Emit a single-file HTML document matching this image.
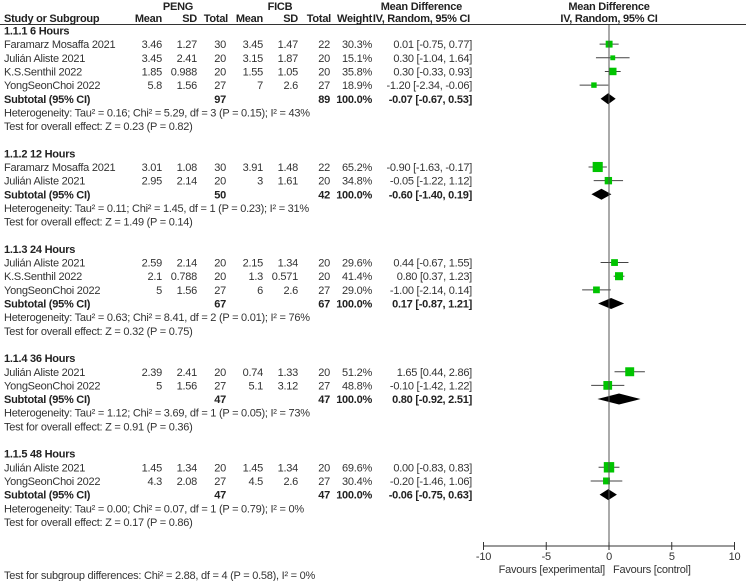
<!DOCTYPE html>
<html><head><meta charset="utf-8"><style>
html,body{margin:0;padding:0;background:#fff;width:746px;height:581px;overflow:hidden}
svg text{font-family:"Liberation Sans",Arial,sans-serif;font-size:11px;fill:#333;letter-spacing:-0.25px}
.b{font-weight:bold;fill:#222}
</style></head><body>
<svg id="plot" width="746" height="581" xmlns="http://www.w3.org/2000/svg">
<g>
<text class="b" x="178" y="10" text-anchor="middle">PENG</text>
<text class="b" x="280" y="10" text-anchor="middle">FICB</text>
<text class="b" x="462" y="10" text-anchor="end">Mean Difference</text>
<text class="b" x="609" y="10" text-anchor="middle">Mean Difference</text>
<text class="b" x="4" y="22">Study or Subgroup</text>
<text class="b" x="162" y="22" text-anchor="end">Mean</text>
<text class="b" x="197" y="22" text-anchor="end">SD</text>
<text class="b" x="228" y="22" text-anchor="end">Total</text>
<text class="b" x="263" y="22" text-anchor="end">Mean</text>
<text class="b" x="298" y="22" text-anchor="end">SD</text>
<text class="b" x="331" y="22" text-anchor="end">Total</text>
<text class="b" x="372" y="22" text-anchor="end">Weight</text>
<text class="b" x="470" y="22" text-anchor="end">IV, Random, 95% CI</text>
<text class="b" x="609" y="22" text-anchor="middle">IV, Random, 95% CI</text>
<line x1="0" y1="24.5" x2="746" y2="24.5" stroke="#333" stroke-width="1"/>
</g>
<g id="rows"></g>
<g id="marks"></g>
</svg>
<script>
const groupTitles = ["1.1.1 6 Hours","1.1.2 12 Hours","1.1.3 24 Hours","1.1.4 36 Hours","1.1.5 48 Hours"];
const studyNames = [
 ["Faramarz Mosaffa 2021","Julián Aliste 2021","K.S.Senthil 2022","YongSeonChoi 2022"],
 ["Faramarz Mosaffa 2021","Julián Aliste 2021"],
 ["Julián Aliste 2021","K.S.Senthil 2022","YongSeonChoi 2022"],
 ["Julián Aliste 2021","YongSeonChoi 2022"],
 ["Julián Aliste 2021","YongSeonChoi 2022"]];
const pengMean = [["3.46","3.45","1.85","5.8"],["3.01","2.95"],["2.59","2.1","5"],["2.39","5"],["1.45","4.3"]];
const pengSD = [["1.27","2.41","0.988","1.56"],["1.08","2.14"],["2.14","0.788","1.56"],["2.41","1.56"],["1.34","2.08"]];
const pengN = [["30","20","20","27"],["30","20"],["20","20","27"],["20","27"],["20","27"]];
const ficbMean = [["3.45","3.15","1.55","7"],["3.91","3"],["2.15","1.3","6"],["0.74","5.1"],["1.45","4.5"]];
const ficbSD = [["1.47","1.87","1.05","2.6"],["1.48","1.61"],["1.34","0.571","2.6"],["1.33","3.12"],["1.34","2.6"]];
const ficbN = [["22","20","20","27"],["22","20"],["20","20","27"],["20","27"],["20","27"]];
const weights = [[30.3,15.1,35.8,18.9],[65.2,34.8],[29.6,41.4,29.0],[51.2,48.8],[69.6,30.4]];
const md = [[0.01,0.30,0.30,-1.20],[-0.90,-0.05],[0.44,0.80,-1.00],[1.65,-0.10],[0.00,-0.20]];
const lo = [[-0.75,-1.04,-0.33,-2.34],[-1.63,-1.22],[-0.67,0.37,-2.14],[0.44,-1.42],[-0.83,-1.46]];
const hi = [[0.77,1.64,0.93,-0.06],[-0.17,1.12],[1.55,1.23,0.14],[2.86,1.22],[0.83,1.06]];
const subN1 = ["97","50","67","47","47"];
const subN2 = ["89","42","67","47","47"];
const subMD = [-0.07,-0.60,0.17,0.80,-0.06];
const subLo = [-0.67,-1.40,-0.87,-0.92,-0.75];
const subHi = [0.53,0.19,1.21,2.51,0.63];
const hetText = ["Heterogeneity: Tau² = 0.16; Chi² = 5.29, df = 3 (P = 0.15); I² = 43%",
 "Heterogeneity: Tau² = 0.11; Chi² = 1.45, df = 1 (P = 0.23); I² = 31%",
 "Heterogeneity: Tau² = 0.63; Chi² = 8.41, df = 2 (P = 0.01); I² = 76%",
 "Heterogeneity: Tau² = 1.12; Chi² = 3.69, df = 1 (P = 0.05); I² = 73%",
 "Heterogeneity: Tau² = 0.00; Chi² = 0.07, df = 1 (P = 0.79); I² = 0%"];
const zText = ["Z = 0.23 (P = 0.82)","Z = 1.49 (P = 0.14)","Z = 0.32 (P = 0.75)","Z = 0.91 (P = 0.36)","Z = 0.17 (P = 0.86)"];
const xTicks = [-10,-5,0,5,10];

const NS="http://www.w3.org/2000/svg";
const rows=document.getElementById('rows'), marks=document.getElementById('marks');
const xs=v=>609+v*12.55;
const ly=n=>30.5+13.65*n;
const f2=v=>(v<0?"-":"")+Math.abs(v).toFixed(2);
function el(tag,attrs,parent,txt){const e=document.createElementNS(NS,tag);for(const k in attrs)e.setAttribute(k,attrs[k]);if(txt!==undefined)e.textContent=txt;parent.appendChild(e);return e;}
function t(x,y,s,anchor,bold,parent){return el('text',{x:x,y:y+4,'text-anchor':anchor||'start','class':bold?'b':''},parent||rows,s);}

let n=0;
for(let g=0;g<groupTitles.length;g++){
  const tt=t(4,ly(n),groupTitles[g],'start',true);
  
  
  n++;
  for(let i=0;i<studyNames[g].length;i++){
    const y=ly(n);
    const row=el('g',{},rows);
    
    
    t(4,y,studyNames[g][i],'start',false,row);
    t(162,y,pengMean[g][i],'end',false,row);
    t(197,y,pengSD[g][i],'end',false,row);
    t(226,y,pengN[g][i],'end',false,row);
    t(263,y,ficbMean[g][i],'end',false,row);
    t(298,y,ficbSD[g][i],'end',false,row);
    t(330,y,ficbN[g][i],'end',false,row);
    t(372,y,weights[g][i].toFixed(1)+"%",'end',false,row);
    t(472,y,f2(md[g][i])+" ["+f2(lo[g][i])+", "+f2(hi[g][i])+"]",'end',false,row);
    const ci=el('line',{x1:xs(lo[g][i]),x2:xs(hi[g][i]),y1:y,y2:y,stroke:'#444','stroke-width':1},marks);
    
    
    const s=1.25*Math.sqrt(weights[g][i]);
    const sq=el('rect',{x:xs(md[g][i])-s/2,y:y-s/2,width:s,height:s,fill:'#00c400'},marks);
    
    
    n++;
  }
  let y=ly(n);
  const st=el('g',{},rows);
  
  
  t(4,y,"Subtotal (95% CI)",'start',true,st);
  t(226,y,subN1[g],'end',true,st);
  t(330,y,subN2[g],'end',true,st);
  t(372,y,"100.0%",'end',true,st);
  t(472,y,f2(subMD[g])+" ["+f2(subLo[g])+", "+f2(subHi[g])+"]",'end',true,st);
  const d=el('polygon',{points:`${xs(subLo[g])},${y} ${xs(subMD[g])},${y-5.5} ${xs(subHi[g])},${y} ${xs(subMD[g])},${y+5.5}`,fill:'#000'},marks);
  
  
  n++;
  const h=t(4,ly(n),hetText[g]);   n++;
  const z=t(4,ly(n),"Test for overall effect: "+zText[g]);   n++;
  n++;
}
const fin=t(4,575,"Test for subgroup differences: Chi² = 2.88, df = 4 (P = 0.58), I² = 0%");



const axY=546;
const zl=el('line',{x1:xs(0),x2:xs(0),y1:25,y2:axY,stroke:'#555','stroke-width':1},marks);


const ax=el('line',{x1:xs(-10),x2:xs(10),y1:axY,y2:axY,stroke:'#333','stroke-width':1},marks);


for(const v of xTicks){
  const tk=el('line',{x1:xs(v),x2:xs(v),y1:axY-4,y2:axY+4,stroke:'#333','stroke-width':1},marks);
  
  
  const lb=t(xs(v),axY+10,String(v),'middle',false,marks);
  
  
}
const fe=t(605,axY+23,"Favours [experimental]",'end',false,marks);


const fc=t(613,axY+23,"Favours [control]",'start',false,marks);


</script>
</body></html>
